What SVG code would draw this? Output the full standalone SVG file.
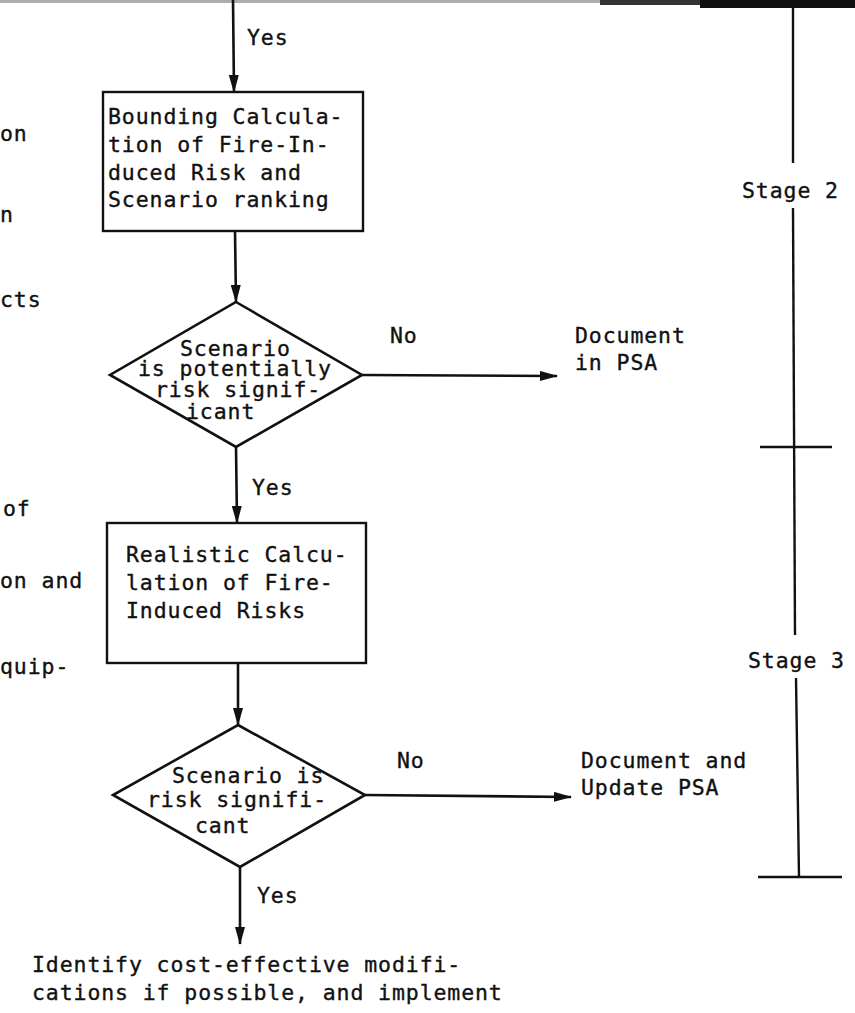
<svg xmlns="http://www.w3.org/2000/svg" width="855" height="1013" viewBox="0 0 855 1013">
  <style>
    text { font-family: "DejaVu Sans Mono", "Liberation Mono", monospace; font-size: 21.5px; letter-spacing: 0.9px; fill: #111; stroke: #111; stroke-width: 0.35; }
    .box { fill: none; stroke: #111; stroke-width: 2.4; }
    .dec { fill: none; stroke: #111; stroke-width: 2.6; stroke-linejoin: miter; }
    .link { fill: none; stroke: #111; stroke-width: 2.6; }
    .stage { fill: none; stroke: #111; stroke-width: 2.4; }
  </style>
  <defs>
    <marker id="arrow" viewBox="0 0 18 10" refX="17" refY="5" markerUnits="userSpaceOnUse" markerWidth="18" markerHeight="10" orient="auto">
      <path d="M0,0 L18,5 L0,10 Z" fill="#111"/>
    </marker>
  </defs>
  <rect width="855" height="1013" fill="#fff"/>

  <!-- torn top edge of the sheet -->
  <g id="top-edge">
    <rect x="0" y="0" width="700" height="3" fill="#777" opacity="0.6"/>
    <rect x="600" y="0" width="255" height="5" fill="#333"/>
    <rect x="700" y="0" width="155" height="8" fill="#111"/>
  </g>

  <!-- clipped text from the neighbouring column -->
  <g id="left-column">
    <text x="0" y="141">on</text>
    <text x="0" y="222">n</text>
    <text x="0" y="307">cts</text>
    <text x="3" y="516">of</text>
    <text x="0" y="588">on and</text>
    <text x="0" y="674">quip-</text>
  </g>

  <!-- stage bar -->
  <g id="stage-bar">
    <line class="stage" x1="793" y1="6" x2="793" y2="163"/>
    <text x="742" y="198">Stage 2</text>
    <line class="stage" x1="793" y1="208" x2="795" y2="635"/>
    <line class="stage" x1="760" y1="447" x2="832" y2="447"/>
    <text x="748" y="668">Stage 3</text>
    <line class="stage" x1="796" y1="678" x2="799" y2="877"/>
    <line class="stage" x1="758" y1="877" x2="842" y2="877"/>
  </g>

  <!-- connectors -->
  <g id="connectors">
    <line class="link" x1="233" y1="0" x2="234" y2="92" marker-end="url(#arrow)"/>
    <line class="link" x1="235" y1="231" x2="236" y2="302" marker-end="url(#arrow)"/>
    <line class="link" x1="362" y1="375" x2="557" y2="376" marker-end="url(#arrow)"/>
    <line class="link" x1="236" y1="447" x2="237" y2="523" marker-end="url(#arrow)"/>
    <line class="link" x1="238" y1="663" x2="238" y2="725" marker-end="url(#arrow)"/>
    <line class="link" x1="365" y1="795" x2="571" y2="797" marker-end="url(#arrow)"/>
    <line class="link" x1="240" y1="867" x2="240" y2="944" marker-end="url(#arrow)"/>
  </g>

  <!-- connector labels -->
  <g id="labels">
    <text x="247" y="45">Yes</text>
    <text x="390" y="343">No</text>
    <text x="252" y="495">Yes</text>
    <text x="397" y="768">No</text>
    <text x="257" y="903">Yes</text>
  </g>

  <g id="bounding-calc">
    <rect class="box" x="103" y="92" width="260" height="139"/>
    <text x="108" y="124">Bounding Calcula-</text>
    <text x="108" y="152">tion of Fire-In-</text>
    <text x="108" y="180">duced Risk and</text>
    <text x="108" y="207">Scenario ranking</text>
  </g>

  <g id="decision-potential">
    <polygon class="dec" points="236,302 362,375 236,447 110,375"/>
    <text x="180" y="356">Scenario</text>
    <text x="138" y="376">is potentially</text>
    <text x="155" y="397">risk signif-</text>
    <text x="186" y="419">icant</text>
  </g>

  <g id="document-psa">
    <text x="575" y="343">Document</text>
    <text x="575" y="370">in PSA</text>
  </g>

  <g id="realistic-calc">
    <rect class="box" x="107" y="523" width="259" height="140"/>
    <text x="126" y="562">Realistic Calcu-</text>
    <text x="126" y="590">lation of Fire-</text>
    <text x="126" y="618">Induced Risks</text>
  </g>

  <g id="decision-significant">
    <polygon class="dec" points="238,725 365,795 240,867 113,795"/>
    <text x="172" y="783">Scenario is</text>
    <text x="147" y="807">risk signifi-</text>
    <text x="195" y="833">cant</text>
  </g>

  <g id="document-update">
    <text x="581" y="768">Document and</text>
    <text x="581" y="795">Update PSA</text>
  </g>

  <g id="modifications">
    <text x="32" y="972">Identify cost-effective modifi-</text>
    <text x="32" y="1000">cations if possible, and implement</text>
  </g>
</svg>
